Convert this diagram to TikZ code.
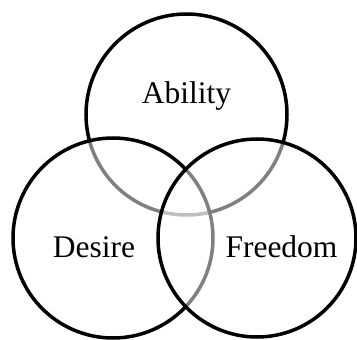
\documentclass[tikz,border=0pt]{standalone}
\usepackage{fontspec}
\setmainfont{Liberation Serif}
\begin{document}
\begin{tikzpicture}[x=1pt,y=-1pt,
  venn/.style={draw=black,line width=3.5pt,fill=white,fill opacity=0.5,draw opacity=1},
  lbl/.style={anchor=base,inner sep=0pt,font=\fontsize{31.5}{36}\selectfont}]
\useasboundingbox (0,0) rectangle (357,340);
\begin{scope}
\clip (0,0) rectangle (357,340);
\path[venn] (186.5,114.5) circle[radius=100.5];
\path[venn] (113,238) circle[radius=100];
\path[venn] (257,238) circle[radius=99];
\end{scope}
\node[lbl] (ability) at (186.5,103) {Ability};
\node[lbl] (desire) at (94,257) {Desire};
\node[lbl] (freedom) at (281.5,257) {Freedom};
\end{tikzpicture}
\end{document}
